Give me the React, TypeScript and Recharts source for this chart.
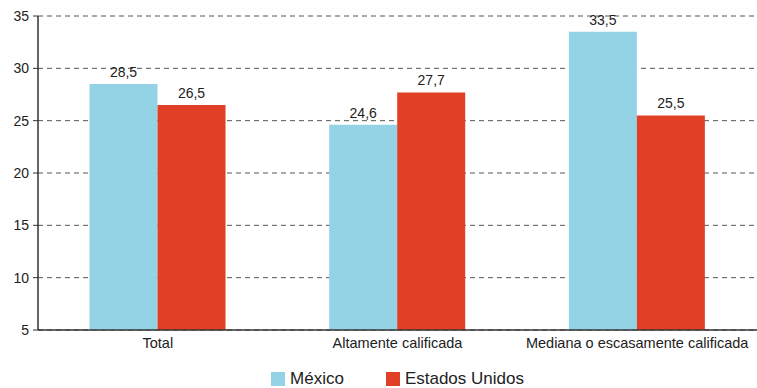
import React from "react";
import {
  Bar,
  BarChart,
  CartesianGrid,
  LabelList,
  Legend,
  XAxis,
  YAxis,
} from "recharts";

const categories = ["Total", "Altamente calificada", "Mediana o escasamente calificada"];
const mexico = [28.5, 24.6, 33.5];
const estadosUnidos = [26.5, 27.7, 25.5];
const yTicks = [5, 10, 15, 20, 25, 30, 35];

const data = categories.map((name, i) => ({
  name,
  mexico: mexico[i],
  eu: estadosUnidos[i],
}));

const BLUE = "#94d3e6";
const RED = "#e13f26";
const FONT = "'Liberation Sans', Arial, sans-serif";

const fmt = (v: any) => String(v).replace(".", ",");

const renderLegend = () => (
  <div
    style={{
      display: "flex",
      justifyContent: "center",
      gap: 42,
      fontSize: 17,
      lineHeight: "20px",
      color: "#222",
      fontFamily: FONT,
    }}
  >
    {[
      { label: "México", color: BLUE },
      { label: "Estados Unidos", color: RED },
    ].map((it) => (
      <div key={it.label} style={{ display: "flex", alignItems: "center" }}>
        <span
          style={{
            width: 14,
            height: 14,
            background: it.color,
            display: "inline-block",
            marginRight: 5,
          }}
        />
        {it.label}
      </div>
    ))}
  </div>
);

export default function App() {
  return (
    <div style={{ position: "absolute", left: 0, top: 0, fontFamily: FONT }}>
      <BarChart
        width={757}
        height={388}
        data={data}
        margin={{ top: 16, right: 0, bottom: 8, left: 8 }}
        barCategoryGap="21.5%"
        barGap={0}
      >
        <CartesianGrid
          vertical={false}
          strokeDasharray="5 4"
          stroke="#555"
        />
        <XAxis
          dataKey="name"
          tickLine={false}
          axisLine={{ stroke: "#333", strokeWidth: 1.5 }}
          tick={{ fill: "#222", fontSize: 14.5 }}
          height={30}
          interval={0}
        />
        <YAxis
          domain={[5, 35]}
          ticks={yTicks}
          width={30}
          tickSize={5}
          tickMargin={4}
          axisLine={{ stroke: "#333", strokeWidth: 1.5 }}
          tickLine={{ stroke: "#333" }}
          tick={{ fill: "#222", fontSize: 14 }}
        />
        <Legend
          verticalAlign="bottom"
          height={20}
          content={renderLegend}
          wrapperStyle={{ top: 369, left: 38, width: 719 }}
        />
        <Bar dataKey="mexico" fill={BLUE} isAnimationActive={false}>
          <LabelList
            dataKey="mexico"
            position="top"
            offset={7}
            formatter={fmt}
            style={{ fill: "#222", fontSize: 14 }}
          />
        </Bar>
        <Bar dataKey="eu" fill={RED} isAnimationActive={false}>
          <LabelList
            dataKey="eu"
            position="top"
            offset={7}
            formatter={fmt}
            style={{ fill: "#222", fontSize: 14 }}
          />
        </Bar>
      </BarChart>
    </div>
  );
}
